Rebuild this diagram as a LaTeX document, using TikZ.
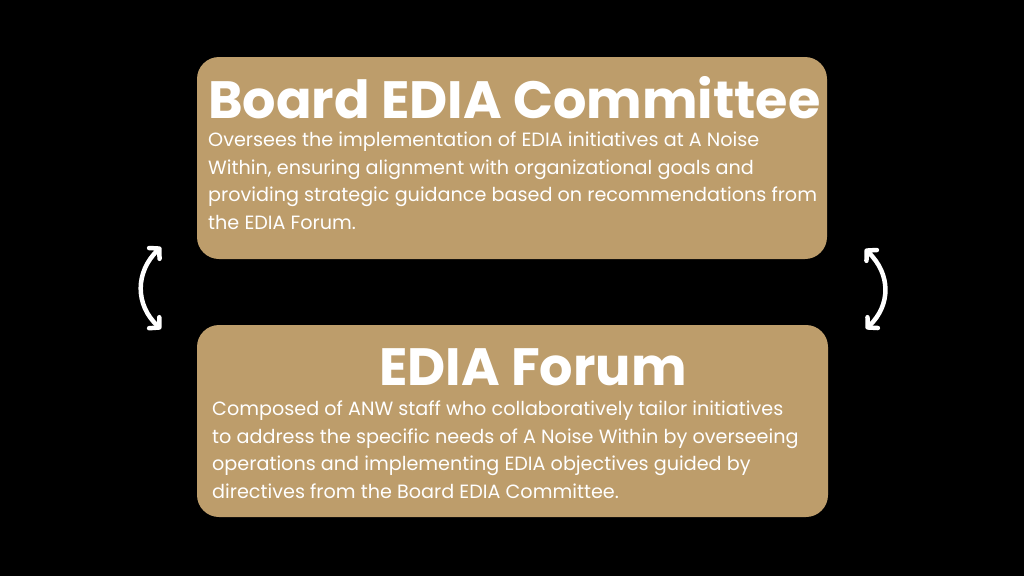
\documentclass[tikz,border=0pt]{standalone}
\usepackage{fontspec}
\setmainfont{Poppins}
\usetikzlibrary{arrows.meta}
\definecolor{tan}{RGB}{189,157,107}
\tikzset{
  card/.style={fill=tan, draw=none, rounded corners=22pt},
  titletext/.style={text=white, inner sep=0pt, font=\fontsize{52.5}{56}\selectfont\bfseries},
  bodytext/.style={text=white, inner sep=0pt, align=left, font=\fontsize{19.2}{27.5}\selectfont},
  swap/.style={draw=white, line width=4.5pt, line cap=round,
    {Straight Barb[round,length=7pt,width=15pt]}-{Straight Barb[round,length=7pt,width=15pt]}}
}
\begin{document}
\begin{tikzpicture}[x=1pt,y=-1pt]
\useasboundingbox[fill=black] (0,0) rectangle (1024,576);
\path[card] (197,57) rectangle (827,259);
\path[card] (197,325) rectangle (828,517);
\node[titletext, anchor=base west] (t1) at (208,118) {Board EDIA Committee};
\node[bodytext, anchor=north west] (b1) at (208,132) {Oversees the implementation of EDIA initiatives at A Noise\\Within, ensuring alignment with organizational goals and\\providing strategic guidance based on recommendations from\\the EDIA Forum.};
\node[titletext, anchor=base] (t2) at (533,385) {EDIA Forum};
\node[bodytext, anchor=north west] (b2) at (212,401) {Composed of ANW staff who collaboratively tailor initiatives\\to address the specific needs of A Noise Within by overseeing\\operations and implementing EDIA objectives guided by\\directives from the Board EDIA Committee.};
\coordinate (la) at (161,247);
\coordinate (lb) at (161,329);
\coordinate (ra) at (865,249);
\coordinate (rb) at (866,329);
\draw[swap] (la) .. controls (135,272) and (135,305) .. (lb);
\draw[swap] (ra) .. controls (891,274) and (891,305) .. (rb);
\end{tikzpicture}
\end{document}
